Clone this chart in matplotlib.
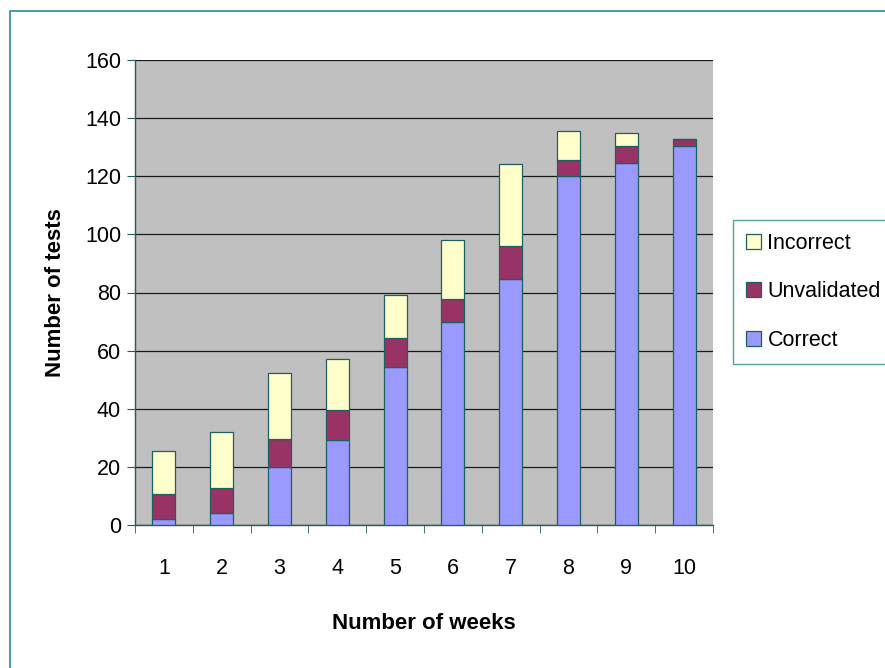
import matplotlib
matplotlib.use("Agg")
import matplotlib.pyplot as plt
from matplotlib.patches import Rectangle
import numpy as np

weeks = ["1", "2", "3", "4", "5", "6", "7", "8", "9", "10"]
correct = [2, 4, 20, 29.3, 54.5, 70, 84.8, 120, 124.7, 130.4]
unvalidated = [8.6, 8.7, 9.5, 10.3, 10, 7.9, 11.2, 5.7, 5.7, 2.3]
incorrect = [14.7, 19.4, 22.7, 17.6, 14.6, 20.1, 28.2, 9.7, 4.6, 0]
yticks = [0, 20, 40, 60, 80, 100, 120, 140, 160]

plt.rcParams['font.family'] = ['Liberation Sans', 'DejaVu Sans']

fig = plt.figure(figsize=(8.85, 6.68), dpi=100)
fig.patch.set_facecolor('white')
# outer chart border
fig.add_artist(Rectangle((10/885, -0.01), 1.0, 1 - 11/668 + 0.01, transform=fig.transFigure,
                         fill=False, edgecolor='#2e8a8a', linewidth=1.2))

ax = fig.add_axes([135/885, 1 - 525/668, (713 - 135)/885, (525 - 60)/668])
ax.set_facecolor('#C0C0C0')

x = np.arange(len(weeks))
w = 0.4
ec = '#1f5f5f'
ax.bar(x, correct, w, color='#9999FF', edgecolor=ec, linewidth=0.9, label='Correct', zorder=3)
b2 = np.array(correct)
ax.bar(x, unvalidated, w, bottom=b2, color='#993366', edgecolor=ec, linewidth=0.9, label='Unvalidated', zorder=3)
b3 = b2 + np.array(unvalidated)
ax.bar(x, incorrect, w, bottom=b3, color='#FFFFCC', edgecolor=ec, linewidth=0.9, label='Incorrect', zorder=3)

ax.set_xlim(-0.5, len(weeks) - 0.5)
ax.set_ylim(0, 160)
ax.set_yticks(yticks)
ax.set_yticklabels([str(v) for v in yticks], fontsize=15.5)
ax.yaxis.grid(True, color='#1a1a1a', linewidth=0.9, zorder=1)
ax.set_axisbelow(True)

ax.set_xticks(x)
ax.set_xticklabels(weeks, fontsize=15.5)
ax.set_xticks(np.arange(-0.5, len(weeks), 1.0), minor=True)
ax.tick_params(axis='x', which='major', length=0, pad=24)
ax.tick_params(axis='x', which='minor', length=6, direction='out', color='#1f5f5f')
ax.tick_params(axis='y', length=6, direction='out', color='#1f5f5f', pad=4)

for s in ['top', 'right']:
    ax.spines[s].set_visible(False)
for s in ['left', 'bottom']:
    ax.spines[s].set_color('#1f5f5f')
    ax.spines[s].set_linewidth(1.0)

ax.set_xlabel('Number of weeks', fontsize=16, fontweight='bold', labelpad=24)
ax.set_ylabel('Number of tests', fontsize=16, fontweight='bold', labelpad=14)

handles, labels = ax.get_legend_handles_labels()
leg = fig.legend(handles[::-1], labels[::-1], loc='upper left',
                 bbox_to_anchor=(733/885, 1 - 220/668), fontsize=15.5,
                 frameon=True, fancybox=False, edgecolor='#2e8a8a',
                 handlelength=0.7, handleheight=0.7, handletextpad=0.3,
                 labelspacing=1.28, borderpad=0.6, borderaxespad=0)
leg.get_frame().set_linewidth(1.0)

fig.savefig('out.png', dpi=100, facecolor='white')
